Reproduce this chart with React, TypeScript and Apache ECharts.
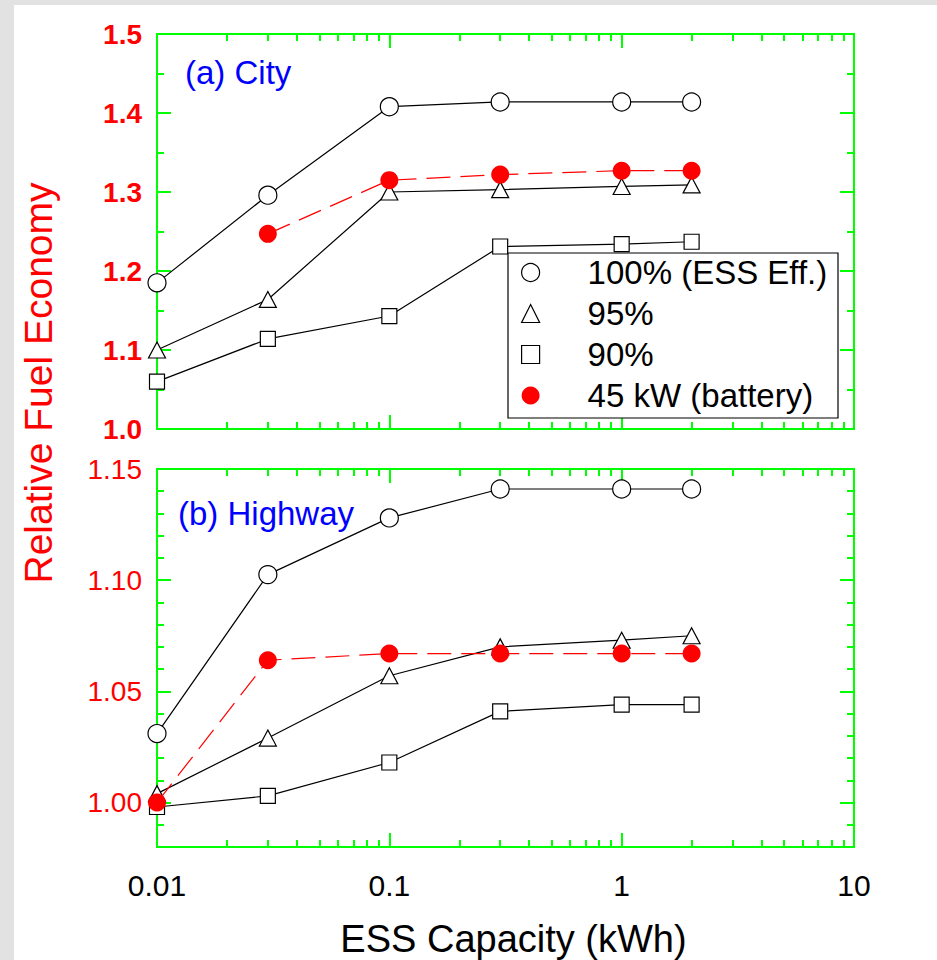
import React, { useEffect, useRef } from "react";
import * as echarts from "echarts";

// ---------- data ----------
const capacity = [0.01, 0.03, 0.1, 0.3, 1, 2];
const city100 = [1.185, 1.296, 1.408, 1.414, 1.414, 1.414];
const city95 = [1.1, 1.164, 1.3, 1.303, 1.307, 1.309];
const city90 = [1.06, 1.114, 1.143, 1.231, 1.234, 1.237];
const city45kW: (number | null)[] = [null, 1.247, 1.315, 1.322, 1.327, 1.327];
const hwy100 = [1.031, 1.1025, 1.128, 1.141, 1.141, 1.141];
const hwy95 = [1.004, 1.029, 1.057, 1.07, 1.073, 1.075];
const hwy90 = [0.998, 1.003, 1.018, 1.041, 1.044, 1.044];
const hwy45kW = [1.0, 1.064, 1.067, 1.067, 1.067, 1.067];

const seriesNames = ["100% (ESS Eff.)", "95%", "90%", "45 kW (battery)"];
const xMinorTicks = [0.02, 0.03, 0.04, 0.05, 0.06, 0.07, 0.08, 0.09, 0.2, 0.3, 0.4, 0.5, 0.6, 0.7, 0.8, 0.9, 2, 3, 4, 5, 6, 7, 8, 9];
const hwyMajorTicks = [1.0, 1.05, 1.1, 1.15];
const hwyMinorTicks = [0.98, 0.99, 1.01, 1.02, 1.03, 1.04, 1.06, 1.07, 1.08, 1.09, 1.11, 1.12, 1.13, 1.14];

const FONT = '"Liberation Sans", Arial, Helvetica, sans-serif';
const GREEN = "#00ff00";
const RED = "#ff0000";

const pairs = (vals: (number | null)[]) =>
  capacity.map((c, i) => [c, vals[i]]).filter((p) => p[1] !== null);

export default function App() {
  const ref = useRef<HTMLDivElement>(null);
  useEffect(() => {
    if (!ref.current) return;
    const chart = echarts.init(ref.current, null, { renderer: "svg" });

    const tickStyle = { color: GREEN, width: 2 };
    const noLine = { show: false, onZero: false };
    const logMajor = (position: string, labels: boolean, extra: any = {}) => ({
      type: "log",
      logBase: 10,
      min: 0.01,
      max: 10,
      position,
      axisLine: noLine,
      splitLine: { show: false },
      axisTick: { show: true, inside: true, length: 14, lineStyle: tickStyle },
      axisLabel: labels
        ? {
            show: true,
            fontSize: 30,
            color: "#000",
            fontFamily: FONT,
            margin: 23,
            formatter: (v: number) => {
              const e = Math.round(Math.log10(v));
              return e < 0 ? Math.pow(10, e).toFixed(-e) : String(Math.pow(10, e));
            },
          }
        : { show: false },
      ...extra,
    });
    const logMinor = (position: string) => ({
      type: "value",
      min: -2,
      max: 1,
      position,
      axisLine: noLine,
      splitLine: { show: false },
      axisLabel: { show: false },
      axisTick: {
        show: true,
        inside: true,
        length: 7,
        lineStyle: tickStyle,
        customValues: xMinorTicks.map((v) => Math.log10(v)),
      },
    });

    const xAxes: any[] = [];
    // grid 0
    xAxes.push({ gridIndex: 0, ...logMajor("bottom", false) });
    xAxes.push({ gridIndex: 0, ...logMajor("top", false) });
    xAxes.push({ gridIndex: 0, ...logMinor("bottom") });
    xAxes.push({ gridIndex: 0, ...logMinor("top") });
    // grid 1
    xAxes.push({
      gridIndex: 1,
      ...logMajor("bottom", true, {
        name: "ESS Capacity (kWh)",
        nameLocation: "middle",
        nameGap: 73,
        nameTextStyle: { fontSize: 38, color: "#000", fontFamily: FONT, padding: [0, 0, 0, 16] },
      }),
    });
    xAxes.push({ gridIndex: 1, ...logMajor("top", false) });
    xAxes.push({ gridIndex: 1, ...logMinor("bottom") });
    xAxes.push({ gridIndex: 1, ...logMinor("top") });

    const cityY = (position: string, labels: boolean) => ({
      type: "value",
      gridIndex: 0,
      position,
      min: 1.0,
      max: 1.5,
      interval: 0.1,
      axisLine: noLine,
      splitLine: { show: false },
      axisTick: { show: true, inside: true, length: 14, lineStyle: tickStyle },
      minorTick: { show: true, splitNumber: 2, length: 7, lineStyle: tickStyle },
      axisLabel: labels
        ? {
            show: true,
            color: RED,
            fontWeight: "bold",
            fontSize: 28,
            fontFamily: FONT,
            margin: 15,
            formatter: (v: number) => v.toFixed(1),
          }
        : { show: false },
    });
    const hwyY = (position: string, major: boolean, labels: boolean) => ({
      type: "value",
      gridIndex: 1,
      position,
      min: 0.98,
      max: 1.15,
      axisLine: noLine,
      splitLine: { show: false },
      axisTick: {
        show: true,
        inside: true,
        length: major ? 14 : 7,
        lineStyle: tickStyle,
        customValues: major ? hwyMajorTicks : hwyMinorTicks,
      },
      axisLabel: labels
        ? {
            show: true,
            color: RED,
            fontSize: 28,
            fontFamily: FONT,
            margin: 15,
            customValues: hwyMajorTicks,
            formatter: (v: number) => v.toFixed(2),
          }
        : { show: false },
    });
    const yAxes: any[] = [
      cityY("left", true),
      cityY("right", false),
      hwyY("left", true, true),
      hwyY("left", false, false),
      hwyY("right", true, false),
      hwyY("right", false, false),
    ];

    const styles = [
      { symbol: "circle", symbolSize: 18, itemStyle: { color: "#fff", borderColor: "#000", borderWidth: 1.2 }, lineStyle: { color: "#000", width: 1.2 } },
      { symbol: "triangle", symbolSize: [17, 16], itemStyle: { color: "#fff", borderColor: "#000", borderWidth: 1.2 }, lineStyle: { color: "#000", width: 1.2 } },
      { symbol: "rect", symbolSize: 15, itemStyle: { color: "#fff", borderColor: "#000", borderWidth: 1.2 }, lineStyle: { color: "#000", width: 1.2 } },
      { symbol: "circle", symbolSize: 18, itemStyle: { color: RED, borderWidth: 0 }, lineStyle: { color: RED, width: 1.2, type: [24, 10] } },
    ];
    const cityData = [city100, city95, city90, city45kW];
    const hwyData = [hwy100, hwy95, hwy90, hwy45kW];
    const series: any[] = [];
    cityData.forEach((d, i) =>
      series.push({ type: "line", name: seriesNames[i], xAxisIndex: 0, yAxisIndex: 0, data: pairs(d), ...styles[i], emphasis: { disabled: true }, z: 2 + i })
    );
    hwyData.forEach((d, i) =>
      series.push({ type: "line", name: seriesNames[i], xAxisIndex: 4, yAxisIndex: 2, data: pairs(d), ...styles[i], emphasis: { disabled: true }, z: 2 + i })
    );

    chart.setOption({
      animation: false,
      backgroundColor: "#e2e2e2",
      textStyle: { fontFamily: FONT },
      grid: [
        { left: 157, top: 34, width: 697, height: 395, show: true, borderColor: GREEN, borderWidth: 2, backgroundColor: "transparent", outerBoundsMode: "none", containLabel: false },
        { left: 157, top: 469, width: 697, height: 378, show: true, borderColor: GREEN, borderWidth: 2, backgroundColor: "transparent", outerBoundsMode: "none", containLabel: false },
      ],
      xAxis: xAxes,
      yAxis: yAxes,
      legend: {
        orient: "vertical",
        left: 521,
        top: 252,
        itemWidth: 18,
        itemHeight: 18,
        itemGap: 0,
        padding: 0,
        z: 10,
        selectedMode: false,
        textStyle: { fontSize: 33, color: "#000", fontFamily: FONT, lineHeight: 41, padding: [0, 0, 0, 43] },
        data: [
          { name: seriesNames[0], icon: "circle", itemStyle: { color: "#fff", borderColor: "#000", borderWidth: 1.2 } },
          { name: seriesNames[1], icon: "triangle", itemStyle: { color: "#fff", borderColor: "#000", borderWidth: 1.2 } },
          { name: seriesNames[2], icon: "rect", itemStyle: { color: "#fff", borderColor: "#000", borderWidth: 1.2 } },
          { name: seriesNames[3], icon: "circle", itemStyle: { color: RED, borderWidth: 0 } },
        ],
      },
      graphic: [
        { type: "rect", z: -10, silent: true, shape: { x: 14, y: 5, width: 923, height: 955 }, style: { fill: "#fff" } },
        { type: "rect", z: 8, silent: true, shape: { x: 508, y: 253, width: 330, height: 165 }, style: { fill: "#fff", stroke: "#000", lineWidth: 1.2 } },
        { type: "text", z: 9, x: 185, y: 72, style: { text: "(a) City", fill: "#0000ff", fontSize: 33, fontFamily: FONT, verticalAlign: "middle", align: "left" } },
        { type: "text", z: 9, x: 178, y: 513, style: { text: "(b) Highway", fill: "#0000ff", fontSize: 33, fontFamily: FONT, verticalAlign: "middle", align: "left" } },
        { type: "text", z: 9, x: 38, y: 383, rotation: Math.PI / 2, style: { text: "Relative Fuel Economy", fill: RED, fontSize: 39, fontFamily: FONT, verticalAlign: "middle", align: "center" } },
      ],
      series,
    });
    return () => chart.dispose();
  }, []);
  return <div ref={ref} style={{ position: "fixed", left: 0, top: 0, width: 937, height: 960 }} />;
}
